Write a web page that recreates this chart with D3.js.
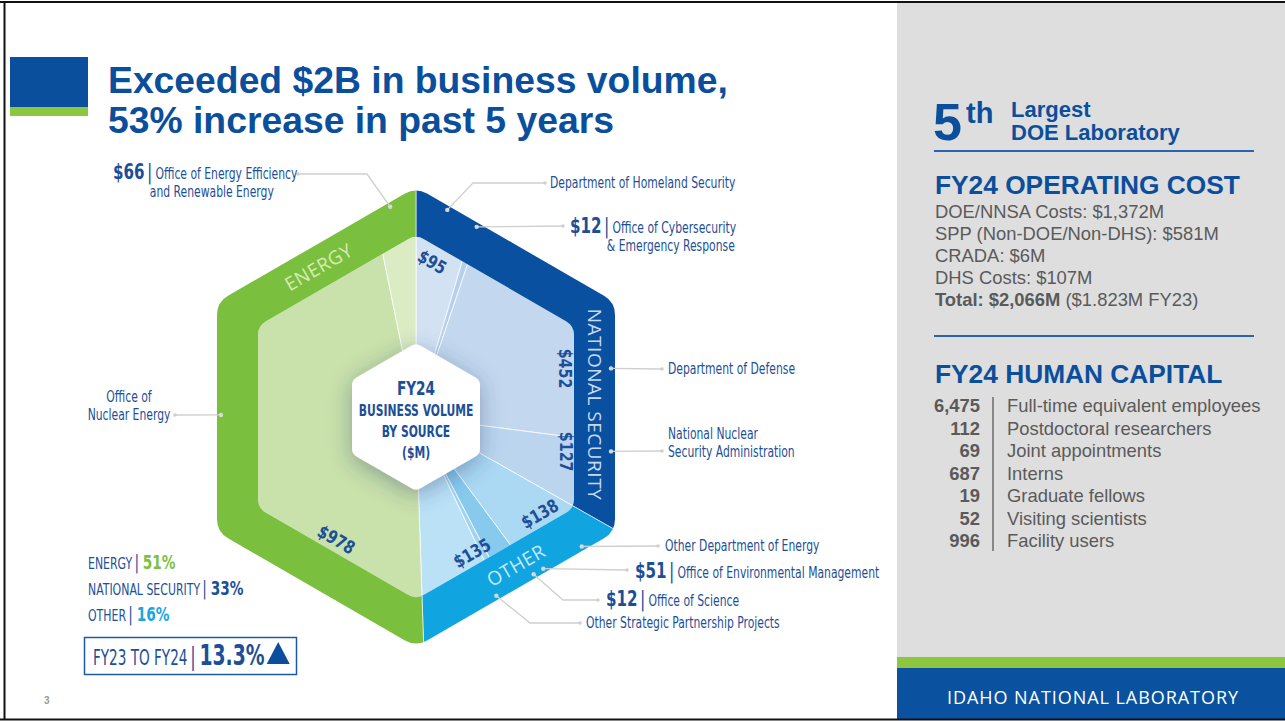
<!DOCTYPE html>
<html>
<head>
<meta charset="utf-8">
<script src="https://cdn.jsdelivr.net/npm/d3@7"></script>
<style>
  body { margin: 0; background: #fff; }
  svg { display: block; }
  .ar { font-family: "Liberation Sans", Arial, sans-serif; }
  .cond { font-family: "Liberation Sans Narrow", "DejaVu Sans Condensed", sans-serif; }
  .thin { font-family: "Open Sans", "Noto Sans", sans-serif; }
</style>
</head>
<body>
<svg id="slide" width="1285" height="721"></svg>
<script>
// ---------- data ----------
const sources = ['Department of Homeland Security', 'Office of Cybersecurity & Emergency Response',
  'Department of Defense', 'National Nuclear Security Administration',
  'Other Department of Energy', 'Office of Environmental Management', 'Office of Science',
  'Other Strategic Partnership Projects', 'Office of Nuclear Energy',
  'Office of Energy Efficiency and Renewable Energy']
const volume = [95, 12, 452, 127, 138, 51, 12, 135, 978, 66]
const sector = ['NATIONAL SECURITY', 'NATIONAL SECURITY', 'NATIONAL SECURITY', 'NATIONAL SECURITY',
  'OTHER', 'OTHER', 'OTHER', 'OTHER', 'ENERGY', 'ENERGY']
const sectorNames = ['NATIONAL SECURITY', 'OTHER', 'ENERGY']
const legendNames = ['ENERGY', 'NATIONAL SECURITY', 'OTHER']
const legendPct = [51, 33, 16]
const growthLabel = 'FY23 TO FY24'
const growthPct = '13.3%'

const opCost = ['DOE/NNSA Costs: $1,372M', 'SPP (Non-DOE/Non-DHS): $581M', 'CRADA: $6M', 'DHS Costs: $107M']
const opTotal = ['Total: $2,066M', ' ($1.823M FY23)']
const hcNumbers = ['6,475', '112', '69', '687', '19', '52', '996']
const hcLabels = ['Full-time equivalent employees', 'Postdoctoral researchers', 'Joint appointments',
  'Interns', 'Graduate fellows', 'Visiting scientists', 'Facility users']

// ---------- styles ----------
const blue = '#0b4f9c'
const labelBlue = '#1d4f98'
const sectorColor = d3.scaleOrdinal().domain(sectorNames).range(['#0a50a0', '#10a4e0', '#7bbf3e'])
const sectorText = d3.scaleOrdinal().domain(sectorNames).range(['#c8d9ef', '#c6e9f9', '#d6ebb6'])
const legendColor = d3.scaleOrdinal().domain(legendNames).range(['#7dc142', '#1d4f98', '#18a6df'])
const sliceColor = d3.scaleOrdinal().domain(sources).range(['#d3e2f3', '#b5d0ec', '#c3d7ee', '#bcd5ef',
  '#abd8f3', '#88c9ee', '#a2d3f1', '#bae1f6', '#c9e1aa', '#dbebc4'])
const SQ = 0.8 // horizontal squeeze to imitate a condensed face

const svg = d3.select('#slide')
const cx = 416, cy = 417
const outerApo = 199, innerApo = 158, coreApo = 64

// rounded pointy-top hexagon
function hexPath(apo, rad) {
  const R = apo / Math.cos(Math.PI / 6)
  const v = d3.range(6).map(k => [cx + R * Math.sin(k * Math.PI / 3), cy - R * Math.cos(k * Math.PI / 3)])
  const p = d3.path()
  p.moveTo((v[5][0] + v[0][0]) / 2, (v[5][1] + v[0][1]) / 2)
  v.forEach((c, k) => {
    const n = v[(k + 1) % 6]
    p.arcTo(c[0], c[1], n[0], n[1], rad)
  })
  p.closePath()
  return p.toString()
}
// point at angle (deg, clockwise from up) on a hexagon of given apothem
function ringPt(ang, apo) {
  const nearest = Math.round((ang - 30) / 60) * 60 + 30
  const r = apo / Math.cos((ang - nearest) * Math.PI / 180)
  const a = ang * Math.PI / 180
  return [cx + r * Math.sin(a), cy - r * Math.cos(a)]
}
function polar(ang, d) {
  const a = ang * Math.PI / 180
  return [cx + d * Math.sin(a), cy - d * Math.cos(a)]
}
// condensed text: squeezed horizontally around its anchor
function condText(parent, x, y, rot, f) {
  return parent.append('g')
    .attr('transform', `translate(${x},${y}) rotate(${rot || 0}) scale(${f || SQ},1)`)
    .append('text').attr('class', 'cond')
}

const defs = svg.append('defs')
defs.append('clipPath').attr('id', 'ringClip')
  .append('path').attr('clip-rule', 'evenodd')
  .attr('d', hexPath(outerApo, 22) + hexPath(innerApo, 16))
defs.append('clipPath').attr('id', 'innerClip')
  .append('path').attr('d', hexPath(innerApo, 16))
const sh = defs.append('filter').attr('id', 'shadow')
  .attr('x', '-50%').attr('y', '-50%').attr('width', '200%').attr('height', '200%')
sh.append('feDropShadow').attr('dx', 0).attr('dy', 5).attr('stdDeviation', 11)
  .attr('flood-color', '#20406e').attr('flood-opacity', 0.4)

// ---------- page frame ----------
svg.append('rect').attr('x', 897).attr('y', 3).attr('width', 388).attr('height', 654).attr('fill', '#dedede')
svg.append('rect').attr('x', 897).attr('y', 657).attr('width', 388).attr('height', 11).attr('fill', '#8dc63f')
svg.append('rect').attr('x', 897).attr('y', 668).attr('width', 388).attr('height', 51).attr('fill', '#0a52a0')
svg.append('text').attr('class', 'thin').attr('x', 947).attr('y', 704)
  .attr('font-size', 18).attr('fill', '#fff').attr('textLength', 291).attr('lengthAdjust', 'spacing')
  .text('IDAHO NATIONAL LABORATORY')
svg.append('line').attr('x1', 0).attr('x2', 1285).attr('y1', 2).attr('y2', 2).attr('stroke', '#111').attr('stroke-width', 2)
svg.append('line').attr('x1', 0).attr('x2', 1285).attr('y1', 719.5).attr('y2', 719.5).attr('stroke', '#111').attr('stroke-width', 2)
svg.append('line').attr('x1', 4.5).attr('x2', 4.5).attr('y1', 2).attr('y2', 720).attr('stroke', '#111').attr('stroke-width', 2)
svg.append('text').attr('class', 'ar').attr('x', 44).attr('y', 704).attr('font-size', 10)
  .attr('fill', '#999').attr('font-weight', 'bold').text('3')

// title
svg.append('rect').attr('x', 10).attr('y', 57).attr('width', 78).attr('height', 50).attr('fill', '#0a4f9c')
svg.append('rect').attr('x', 10).attr('y', 107).attr('width', 78).attr('height', 9).attr('fill', '#8dc63f')
const title = svg.append('text').attr('class', 'ar').attr('font-size', 37.3)
  .attr('font-weight', 'bold').attr('fill', blue)
title.append('tspan').attr('x', 108).attr('y', 93).text('Exceeded $2B in business volume,')
title.append('tspan').attr('x', 108).attr('y', 133).text('53% increase in past 5 years')

// ---------- hexagon chart ----------
const chart = svg.append('g')

// inner slices
const pie = d3.pie().sort(null).value(d => d.v)
const slices = pie(sources.map((s, i) => ({ s, v: volume[i], sec: sector[i], i })))
const bigArc = d3.arc().innerRadius(0).outerRadius(320)

chart.append('g').attr('clip-path', 'url(#innerClip)')
  .append('g').attr('transform', `translate(${cx},${cy})`)
  .selectAll('path').data(slices).join('path')
  .attr('d', bigArc)
  .attr('fill', d => sliceColor(d.data.s))
  .attr('stroke', 'rgba(255,255,255,0.75)').attr('stroke-width', 1)

// outer ring by sector
const secTotals = sectorNames.map(n => ({ n, v: d3.sum(volume.filter((v, i) => sector[i] === n)) }))
const ringArcs = pie(secTotals)
chart.append('g').attr('clip-path', 'url(#ringClip)')
  .append('g').attr('transform', `translate(${cx},${cy})`)
  .selectAll('path').data(ringArcs).join('path')
  .attr('d', bigArc)
  .attr('fill', d => sectorColor(d.data.n))
  .attr('stroke', 'rgba(255,255,255,0.6)').attr('stroke-width', 1)

// centre hexagon
chart.append('path').attr('d', hexPath(coreApo, 9)).attr('fill', '#fff').attr('filter', 'url(#shadow)')
const coreLines = [['FY24', 19, 395], ['BUSINESS VOLUME', 15, 416], ['BY SOURCE', 15, 437], ['($M)', 15, 458]]
coreLines.forEach(c => {
  condText(chart, cx, c[2]).attr('text-anchor', 'middle').attr('fill', labelBlue)
    .attr('font-weight', 'bold').attr('font-size', c[1]).text(c[0])
})

// sector names on ring
const sectorLayout = [
  { n: 'ENERGY', ang: 327, rot: -30 },
  { n: 'NATIONAL SECURITY', ang: 86, rot: 90 },
  { n: 'OTHER', ang: 146, rot: -30 },
]
sectorLayout.forEach(s => {
  const p = ringPt(s.ang, (outerApo + innerApo) / 2)
  chart.append('text').attr('class', 'thin')
    .attr('transform', `translate(${p[0]},${p[1]}) rotate(${s.rot})`)
    .attr('text-anchor', 'middle').attr('dy', '0.36em')
    .attr('font-size', 19).attr('letter-spacing', 0.5)
    .attr('fill', sectorText(s.n)).text(s.n)
})

// values inside slices
const valueLayout = [
  { i: 0, ang: 6, d: 156, rot: 30 },
  { i: 2, ang: 72, d: 157, rot: 90 },
  { i: 3, ang: 103, d: 154, rot: 90 },
  { i: 4, ang: 128, d: 157, rot: -30 },
  { i: 7, ang: 157.6, d: 147, rot: -30 },
  { i: 8, ang: 213, d: 146, rot: 30 },
]
valueLayout.forEach(l => {
  const p = polar(l.ang, l.d)
  condText(chart, p[0], p[1], l.rot, 0.88)
    .attr('text-anchor', 'middle').attr('dy', '0.36em')
    .attr('font-size', 18).attr('font-weight', 'bold').attr('fill', labelBlue)
    .text('$' + volume[l.i])
})

// leader labels
const leaderLayout = [
  { i: 0, ang: 8.6, pts: [[473, 183], [545, 183]], x: 550, y: 188, lines: ['Department of Homeland Security'] },
  { i: 1, ang: 17.7, pts: [[563, 226]], x: 570, y: 233, amount: true, lines: ['Office of Cybersecurity', '& Emergency Response'] },
  { i: 2, ang: 76, pts: [[662, 369]], x: 668, y: 374, lines: ['Department of Defense'] },
  { i: 3, ang: 100, pts: [[662, 451]], x: 668, y: 439, lines: ['National Nuclear', 'Security Administration'] },
  { i: 4, ang: 128, pts: [[658, 546]], x: 665, y: 551, lines: ['Other Department of Energy'] },
  { i: 5, ang: 140, pts: [[627, 570]], x: 635, y: 578, amount: true, lines: ['Office of Environmental Management'] },
  { i: 6, ang: 143.2, pts: [[563, 600], [598, 600]], x: 606, y: 606, amount: true, lines: ['Office of Science'] },
  { i: 7, ang: 155.8, pts: [[530, 623], [580, 623]], x: 586, y: 628, lines: ['Other Strategic Partnership Projects'] },
  { i: 8, ang: 270.6, pts: [[175, 415]], x: 129, y: 402, middle: true, lines: ['Office of', 'Nuclear Energy'] },
  { i: 9, ang: 353, pts: [[367, 174], [298, 174]], x: 113, y: 179, amount: true, lines: ['Office of Energy Efficiency', 'and Renewable Energy'] },
]
const leaders = chart.append('g')
leaderLayout.forEach(l => {
  const dot = ringPt(l.ang, 195)
  const pts = [dot, ...l.pts]
  leaders.append('path').attr('d', d3.line()(pts))
    .attr('fill', 'none').attr('stroke', '#cfcfcf').attr('stroke-width', 1.3)
  leaders.append('circle').attr('cx', dot[0]).attr('cy', dot[1]).attr('r', 2.2).attr('fill', '#d8d8d8')
  const end = pts[pts.length - 1]
  leaders.append('circle').attr('cx', end[0]).attr('cy', end[1]).attr('r', 1.8).attr('fill', '#cfcfcf')

  const t = condText(leaders, l.x, l.y).attr('fill', labelBlue).attr('font-size', 15)
  if (l.middle) {
    t.attr('text-anchor', 'middle')
    l.lines.forEach((ln, k) => t.append('tspan').attr('x', 0).attr('y', k * 18).text(ln))
  } else if (l.amount) {
    const first = t.append('tspan').attr('x', 0).attr('y', 0)
    first.append('tspan').attr('font-weight', 'bold').attr('font-size', 21).text('$' + volume[l.i])
    first.append('tspan').attr('font-size', 22).attr('dx', 3).text('|')
    first.append('tspan').attr('dx', 4).text(l.lines[0])
    if (l.lines[1]) {
      // second line aligned under first text line
      const w = t.node().getComputedTextLength()
      const probe = t.append('tspan').text(l.lines[0])
      const w0 = probe.node().getComputedTextLength()
      probe.remove()
      t.append('tspan').attr('x', w - w0).attr('y', 18).text(l.lines[1])
    }
  } else {
    l.lines.forEach((ln, k) => t.append('tspan').attr('x', 0).attr('y', k * 18).text(ln))
  }
})

// legend
const legend = svg.append('g')
legendNames.forEach((n, k) => {
  const t = condText(legend, 88, 569 + k * 26, 0, 0.76).attr('fill', labelBlue)
  t.append('tspan').attr('font-size', 16).text(n)
  t.append('tspan').attr('font-size', 20).attr('dx', 3).text('|')
  t.append('tspan').attr('font-size', 20).attr('dx', 5).attr('font-weight', 'bold')
    .attr('fill', legendColor(n)).text(legendPct[k] + '%')
})
legend.append('rect').attr('x', 84.5).attr('y', 637.5).attr('width', 212).attr('height', 37)
  .attr('fill', 'none').attr('stroke', '#1d5aa6').attr('stroke-width', 1.5)
const gF = 0.72
const g2 = condText(legend, 93, 665, 0, gF).attr('fill', labelBlue)
g2.append('tspan').attr('font-size', 21).text(growthLabel)
g2.append('tspan').attr('font-size', 25).attr('dx', 4).text('|')
g2.append('tspan').attr('font-size', 29).attr('dx', 5).attr('font-weight', 'bold').text(growthPct)
const bb = g2.node().getBBox()
const gEnd = 93 + (bb.x + bb.width) * gF
legend.append('path')
  .attr('d', d3.line()([[gEnd + 2, 664], [gEnd + 25, 664], [gEnd + 13.5, 642]]))
  .attr('fill', blue)

// ---------- right panel ----------
const panel = svg.append('g').attr('class', 'ar')
panel.append('text').attr('x', 933).attr('y', 140).attr('font-size', 52).attr('font-weight', 'bold')
  .attr('fill', blue).text('5')
panel.append('text').attr('x', 966).attr('y', 123).attr('font-size', 29).attr('font-weight', 'bold')
  .attr('fill', blue).text('th')
panel.append('text').attr('x', 1011).attr('y', 117).attr('font-size', 22).attr('font-weight', 'bold')
  .attr('fill', blue).text('Largest')
panel.append('text').attr('x', 1011).attr('y', 140).attr('font-size', 22).attr('font-weight', 'bold')
  .attr('fill', blue).text('DOE Laboratory')
panel.append('line').attr('x1', 934).attr('x2', 1254).attr('y1', 151).attr('y2', 151)
  .attr('stroke', '#2a64b0').attr('stroke-width', 2)
panel.append('text').attr('x', 935).attr('y', 194).attr('font-size', 26.3).attr('font-weight', 'bold')
  .attr('fill', blue).text('FY24 OPERATING COST')
opCost.forEach((ln, k) => {
  panel.append('text').attr('x', 935).attr('y', 218 + k * 22).attr('font-size', 18.4).attr('fill', '#5a5a5a').text(ln)
})
const tot = panel.append('text').attr('x', 935).attr('y', 218 + opCost.length * 22).attr('font-size', 18.4).attr('fill', '#5a5a5a')
tot.append('tspan').attr('font-weight', 'bold').text(opTotal[0])
tot.append('tspan').text(opTotal[1])
panel.append('line').attr('x1', 934).attr('x2', 1254).attr('y1', 336).attr('y2', 336)
  .attr('stroke', '#2a64b0').attr('stroke-width', 2)
panel.append('text').attr('x', 935).attr('y', 383).attr('font-size', 26.3).attr('font-weight', 'bold')
  .attr('fill', blue).text('FY24 HUMAN CAPITAL')
const hcY = d3.scalePoint().domain(hcLabels).range([412, 547])
panel.append('line').attr('x1', 993).attr('x2', 993).attr('y1', 397).attr('y2', 551)
  .attr('stroke', '#6a6a6a').attr('stroke-width', 1.5)
hcLabels.forEach((lab, k) => {
  panel.append('text').attr('x', 980).attr('y', hcY(lab)).attr('text-anchor', 'end')
    .attr('font-size', 18.4).attr('font-weight', 'bold').attr('fill', '#5a5a5a').text(hcNumbers[k])
  panel.append('text').attr('x', 1007).attr('y', hcY(lab))
    .attr('font-size', 18.4).attr('fill', '#5a5a5a').text(lab)
})
</script>
</body>
</html>
